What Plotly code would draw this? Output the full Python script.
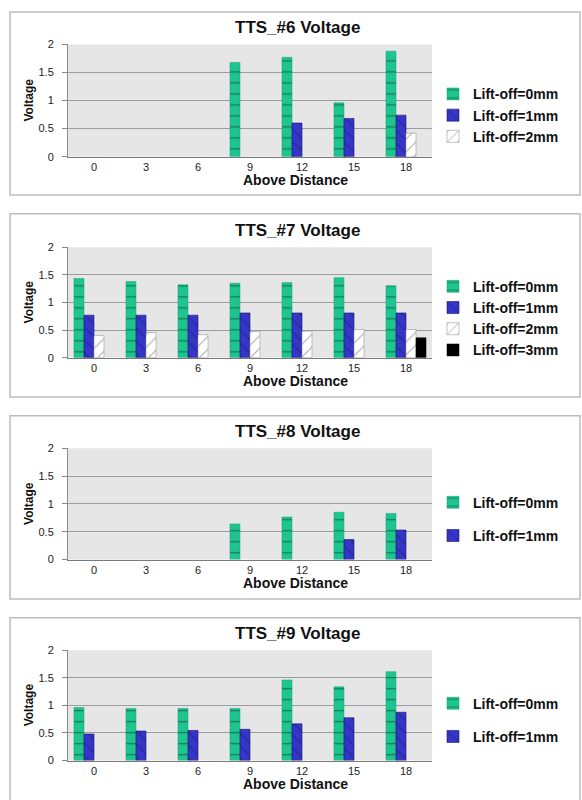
import plotly.graph_objects as go

categories = ["0", "3", "6", "9", "12", "15", "18"]
y_ticks = [0, 0.5, 1, 1.5, 2]
y_tick_labels = ["0", "0.5", "1", "1.5", "2"]

series_names = ["Lift-off=0mm", "Lift-off=1mm", "Lift-off=2mm", "Lift-off=3mm"]

tts6_0mm = [None, None, None, 1.68, 1.77, 0.96, 1.88]
tts6_1mm = [None, None, None, None, 0.60, 0.68, 0.74]
tts6_2mm = [None, None, None, None, None, None, 0.42]

tts7_0mm = [1.435, 1.38, 1.32, 1.35, 1.36, 1.45, 1.305]
tts7_1mm = [0.77, 0.77, 0.77, 0.81, 0.81, 0.81, 0.81]
tts7_2mm = [0.40, 0.455, 0.415, 0.47, 0.48, 0.51, 0.51]
tts7_3mm = [None, None, None, None, None, None, 0.36]

tts8_0mm = [None, None, None, 0.64, 0.765, 0.85, 0.83]
tts8_1mm = [None, None, None, None, None, 0.36, 0.53]

tts9_0mm = [0.96, 0.945, 0.945, 0.945, 1.46, 1.335, 1.61]
tts9_1mm = [0.48, 0.535, 0.545, 0.565, 0.665, 0.775, 0.875]

empty = [None] * 7

panels = [
    ("TTS_#6 Voltage", [tts6_0mm, tts6_1mm, tts6_2mm, empty], 3),
    ("TTS_#7 Voltage", [tts7_0mm, tts7_1mm, tts7_2mm, tts7_3mm], 4),
    ("TTS_#8 Voltage", [tts8_0mm, tts8_1mm, empty, empty], 2),
    ("TTS_#9 Voltage", [tts9_0mm, tts9_1mm, empty, empty], 2),
]

W, H = 582, 800
FONT = "Liberation Sans, Arial, sans-serif"

styles = [
    dict(color="#1ec58e", line=dict(color="#17a577", width=0.5),
         pattern=dict(shape="-", fgcolor="#0b2a1f", bgcolor="#1ec58e", size=11, solidity=0.12)),
    dict(color="#3535c8", line=dict(color="#1a1a70", width=0.6),
         pattern=dict(shape="\\", fgcolor="#15154d", bgcolor="#3535c8", size=9, solidity=0.12)),
    dict(color="#ffffff", line=dict(color="#9a9a9a", width=0.6),
         pattern=dict(shape="/", fgcolor="#555555", bgcolor="#ffffff", size=9, solidity=0.12)),
    dict(color="#000000", line=dict(color="#000000", width=0.5)),
]

# pixel geometry: plot area (top, bottom), frame (top, bottom), legend centre / gap
plot_rows = [(39, 153), (245, 357), (449, 562), (654, 766)]
boxes = [(6, 192), (211, 397), (416, 602), (621, 807)]
legend_cfg = [
    dict(center=111, gap=0),
    dict(center=317, gap=0),
    dict(center=521, gap=12),
    dict(center=725, gap=12),
]
x0, x1 = 68, 432

fig = go.Figure()
shapes = []
annotations = []
layout = {}

for i, (title, data, nshown) in enumerate(panels):
    n = i + 1
    xa = "x" if n == 1 else f"x{n}"
    ya = "y" if n == 1 else f"y{n}"
    lg = "legend" if n == 1 else f"legend{n}"
    for j, vals in enumerate(data):
        fig.add_trace(go.Bar(
            x=categories, y=vals, name=f"<b>{series_names[j]}</b>",
            marker=styles[j], xaxis=xa, yaxis=ya, legend=lg,
            legendgroup=f"p{n}s{j}",
            showlegend=(j < nshown), hoverinfo="y",
        ))
    top, bot = plot_rows[i]
    dom = [1 - bot / H, 1 - top / H]
    xkey = "xaxis" if n == 1 else f"xaxis{n}"
    ykey = "yaxis" if n == 1 else f"yaxis{n}"
    layout[xkey] = dict(
        domain=[x0 / W, x1 / W], anchor=ya, type="category",
        showline=True, linecolor="#7a7a7a", linewidth=1,
        showgrid=False, ticks="", tickfont=dict(family=FONT, size=11, color="#222"),
        fixedrange=True,
    )
    layout[ykey] = dict(
        domain=dom, anchor=xa, range=[0, 2], tickvals=y_ticks, ticktext=y_tick_labels,
        showgrid=True, gridcolor="#9c9c9c", gridwidth=1,
        showline=True, linecolor="#8a8a8a", linewidth=1,
        ticks="outside", ticklen=5, tickcolor="#8a8a8a", ticklabelstandoff=6,
        tickfont=dict(family=FONT, size=11, color="#222"), zeroline=False,
        fixedrange=True,
    )
    lc = legend_cfg[i]
    layout[lg] = dict(
        x=433 / W, y=1 - lc["center"] / H, xanchor="left", yanchor="middle",
        bgcolor="rgba(0,0,0,0)", itemwidth=30, tracegroupgap=lc["gap"],
        font=dict(family=FONT, size=14, color="#111"),
        itemclick=False, itemdoubleclick=False,
    )
    bt, bb = boxes[i]
    shapes.append(dict(type="rect", xref="paper", yref="paper",
                       x0=10 / W, x1=580 / W, y0=1 - bb / H, y1=1 - bt / H,
                       line=dict(color="#bdbdbd", width=1.5), layer="below"))
    annotations.append(dict(text=f"<b>{title}</b>", xref="paper", yref="paper",
                            x=297 / W, y=1 - (top - 17) / H, showarrow=False,
                            xanchor="center", yanchor="middle",
                            font=dict(family=FONT, size=17, color="#111")))
    annotations.append(dict(text="<b>Above Distance</b>", xref="paper", yref="paper",
                            x=295 / W, y=1 - (bot + 24) / H, showarrow=False,
                            xanchor="center", yanchor="middle",
                            font=dict(family=FONT, size=14, color="#111")))
    annotations.append(dict(text="<b>Voltage</b>", xref="paper", yref="paper",
                            x=29 / W, y=1 - ((top + bot) / 2) / H, showarrow=False,
                            xanchor="center", yanchor="middle", textangle=-90,
                            font=dict(family=FONT, size=12, color="#111")))

fig.update_layout(
    width=W, height=H, margin=dict(l=0, r=0, t=0, b=0),
    paper_bgcolor="white", plot_bgcolor="#e6e6e6",
    barmode="group", bargap=0.23, bargroupgap=0,
    shapes=shapes, annotations=annotations,
    font=dict(family=FONT),
    **layout,
)

fig.write_html(
    "out.html",
    config={"displayModeBar": False},
    post_script="document.body.style.margin='0px';document.body.style.overflow='hidden';",
)
